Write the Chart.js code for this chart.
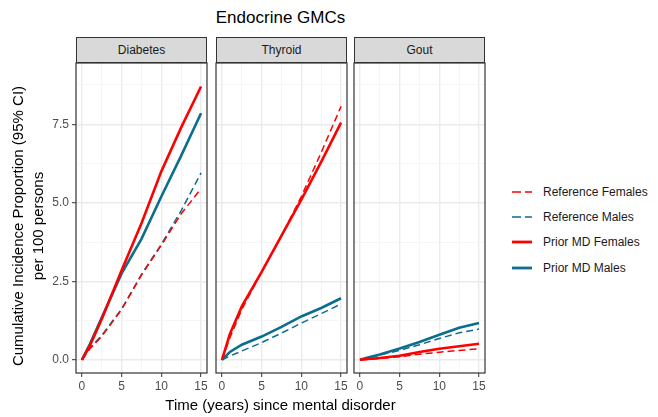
<!DOCTYPE html>
<html>
<head>
<meta charset="utf-8">
<script src="https://cdn.jsdelivr.net/npm/chart.js@4.4.0/dist/chart.umd.min.js"></script>
<style>
  body { margin: 0; background: #fff; font-family: "Liberation Sans", Arial, sans-serif; }
  #wrap { position: relative; width: 658px; height: 417px; overflow: hidden; }
  canvas { position: absolute; }
  .strip { position: absolute; top: 37px; height: 26px; box-sizing: border-box; background: #d9d9d9;
           border: 1px solid #333; font-size: 12px; color: #1a1a1a; text-align: center; line-height: 24px; }
  .txt { position: absolute; white-space: nowrap; color: #000; }
  .leg { position: absolute; left: 510px; font-size: 12px; color: #1a1a1a; height: 14px; line-height: 14px; }
  .leg svg { position: absolute; left: 0; top: 0; }
  .leg span { position: absolute; left: 33px; top: 0; white-space: nowrap; }
</style>
</head>
<body>
<div id="wrap">
  <div class="txt" style="left:0;width:561px;top:8px;text-align:center;font-size:17px;">Endocrine GMCs</div>

  <div class="strip" style="left:76px;width:131px;">Diabetes</div>
  <div class="strip" style="left:216px;width:131px;">Thyroid</div>
  <div class="strip" style="left:354px;width:131px;">Gout</div>

  <canvas id="c1" width="212" height="340" style="left:0;top:60px;"></canvas>
  <canvas id="c2" width="141" height="340" style="left:211px;top:60px;"></canvas>
  <canvas id="c3" width="141" height="340" style="left:349px;top:60px;"></canvas>

  <div class="txt" style="left:-132px;top:206px;width:320px;text-align:center;font-size:15px;line-height:20px;transform:rotate(-90deg);">
    Cumulative Incidence Proportion (95% CI)<br>per 100 persons</div>
  <div class="txt" style="left:76px;width:409px;top:396px;text-align:center;font-size:15px;">Time (years) since mental disorder</div>

  <div class="leg" style="top:185px;"><svg width="24" height="14"><line x1="2" y1="7" x2="22" y2="7" stroke="#ff0000" stroke-width="1.6" stroke-dasharray="9,4"/></svg><span>Reference Females</span></div>
  <div class="leg" style="top:210px;"><svg width="24" height="14"><line x1="2" y1="7" x2="22" y2="7" stroke="#0b6e8c" stroke-width="1.6" stroke-dasharray="9,4"/></svg><span>Reference Males</span></div>
  <div class="leg" style="top:235px;"><svg width="24" height="14"><line x1="2" y1="7" x2="22" y2="7" stroke="#ff0000" stroke-width="2.8"/></svg><span>Prior MD Females</span></div>
  <div class="leg" style="top:261px;"><svg width="24" height="14"><line x1="2" y1="7" x2="22" y2="7" stroke="#0b6e8c" stroke-width="2.8"/></svg><span>Prior MD Males</span></div>
</div>

<script>
// years since mental disorder
const years = [0, 1, 2.5, 5, 7.5, 10, 12.5, 15];

// diabetes
const diabetesRefF = [0, 0.35, 0.75, 1.6, 2.7, 3.65, 4.65, 5.45];
const diabetesRefM = [0, 0.37, 0.78, 1.62, 2.72, 3.68, 4.75, 5.95];
const diabetesMdF = [0, 0.45, 1.3, 2.85, 4.35, 6.0, 7.4, 8.7];
const diabetesMdM = [0, 0.5, 1.35, 2.75, 3.85, 5.2, 6.5, 7.85];

// thyroid
const thyroidRefF = [0, 0.7, 1.6, 2.8, 3.95, 5.2, 6.6, 8.07];
const thyroidRefM = [0, 0.12, 0.28, 0.55, 0.85, 1.17, 1.47, 1.78];
const thyroidMdF = [0, 0.82, 1.7, 2.8, 3.95, 5.1, 6.3, 7.55];
const thyroidMdM = [0, 0.25, 0.48, 0.74, 1.05, 1.38, 1.65, 1.96];

// gout
const goutRefF = [0, 0.015, 0.04, 0.1, 0.18, 0.24, 0.3, 0.35];
const goutRefM = [0, 0.06, 0.15, 0.3, 0.48, 0.68, 0.86, 0.98];
const goutMdF = [0, 0.025, 0.06, 0.13, 0.25, 0.35, 0.43, 0.51];
const goutMdM = [0, 0.07, 0.17, 0.36, 0.57, 0.8, 1.02, 1.17];

// ticks
const xTicks = [0, 2.5, 5, 7.5, 10, 12.5, 15];
const yTicks = [0, 1.25, 2.5, 3.75, 5, 6.25, 7.5, 8.75];

const RED = '#ff0000';
const BLUE = '#0b6e8c';
const FONT = "'Liberation Sans', Arial, sans-serif";

function pts(vals) {
  return years.map((x, i) => ({ x: x, y: vals[i] }));
}

function makeSets(refF, refM, mdF, mdM) {
  return [
    { label: 'Prior MD Females', data: pts(mdF), borderColor: RED, borderWidth: 2.6 },
    { label: 'Prior MD Males', data: pts(mdM), borderColor: BLUE, borderWidth: 2.6 },
    { label: 'Reference Females', data: pts(refF), borderColor: RED, borderWidth: 1.5, borderDash: [7, 4] },
    { label: 'Reference Males', data: pts(refM), borderColor: BLUE, borderWidth: 1.5, borderDash: [7, 4] }
  ];
}

const panelBorder = {
  id: 'panelBorder',
  afterDraw(chart) {
    const a = chart.chartArea, c = chart.ctx;
    c.save();
    c.strokeStyle = '#333333';
    c.lineWidth = 1.2;
    c.strokeRect(a.left, a.top, a.right - a.left, a.bottom - a.top);
    c.restore();
  }
};

function isMajor(v, step) {
  return Math.abs(v / step - Math.round(v / step)) < 1e-6;
}

// keep the panels the same size whatever the tick labels need
function noPad(s) {
  s.paddingTop = 0; s.paddingBottom = 0; s.paddingLeft = 0; s.paddingRight = 0;
}

function makeConfig(sets, showY, padLeft) {
  return {
    type: 'line',
    data: { datasets: sets },
    options: {
      animation: false,
      responsive: false,
      layout: { padding: { top: 3, right: 5, left: padLeft, bottom: 0 } },
      elements: { point: { radius: 0 }, line: { tension: 0 } },
      plugins: { legend: { display: false }, tooltip: { enabled: false } },
      scales: {
        x: {
          type: 'linear', min: -0.75, max: 15.75,
          afterBuildTicks: s => { s.ticks = xTicks.map(v => ({ value: v })); },
          afterFit: s => { s.height = 27; noPad(s); },
          border: { display: false },
          grid: {
            color: c => isMajor(c.tick.value, 5) ? '#ebebeb' : '#f3f3f3',
            lineWidth: c => isMajor(c.tick.value, 5) ? 1.4 : 0.8,
            tickLength: 4,
            tickColor: c => isMajor(c.tick.value, 5) ? '#333333' : 'rgba(0,0,0,0)',
            tickWidth: 1
          },
          ticks: {
            autoSkip: false, maxRotation: 0, padding: 2,
            color: '#4d4d4d', font: { family: FONT, size: 12 },
            callback: v => isMajor(v, 5) ? String(v) : ''
          }
        },
        y: {
          type: 'linear', min: -0.42, max: 9.45,
          afterBuildTicks: s => { s.ticks = yTicks.map(v => ({ value: v })); },
          afterFit: s => { s.width = showY ? 76 : 0; noPad(s); },
          border: { display: false },
          grid: {
            color: c => isMajor(c.tick.value, 2.5) ? '#ebebeb' : '#f3f3f3',
            lineWidth: c => isMajor(c.tick.value, 2.5) ? 1.4 : 0.8,
            drawTicks: showY,
            tickLength: 4,
            tickColor: c => isMajor(c.tick.value, 2.5) ? '#333333' : 'rgba(0,0,0,0)',
            tickWidth: 1
          },
          ticks: {
            display: showY, autoSkip: false, padding: 3,
            color: '#4d4d4d', font: { family: FONT, size: 12 },
            callback: v => isMajor(v, 2.5) ? v.toFixed(1) : ''
          }
        }
      }
    },
    plugins: [panelBorder]
  };
}

new Chart(document.getElementById('c1'),
  makeConfig(makeSets(diabetesRefF, diabetesRefM, diabetesMdF, diabetesMdM), true, 0));
new Chart(document.getElementById('c2'),
  makeConfig(makeSets(thyroidRefF, thyroidRefM, thyroidMdF, thyroidMdM), false, 5));
new Chart(document.getElementById('c3'),
  makeConfig(makeSets(goutRefF, goutRefM, goutMdF, goutMdM), false, 5));
</script>
</body>
</html>
